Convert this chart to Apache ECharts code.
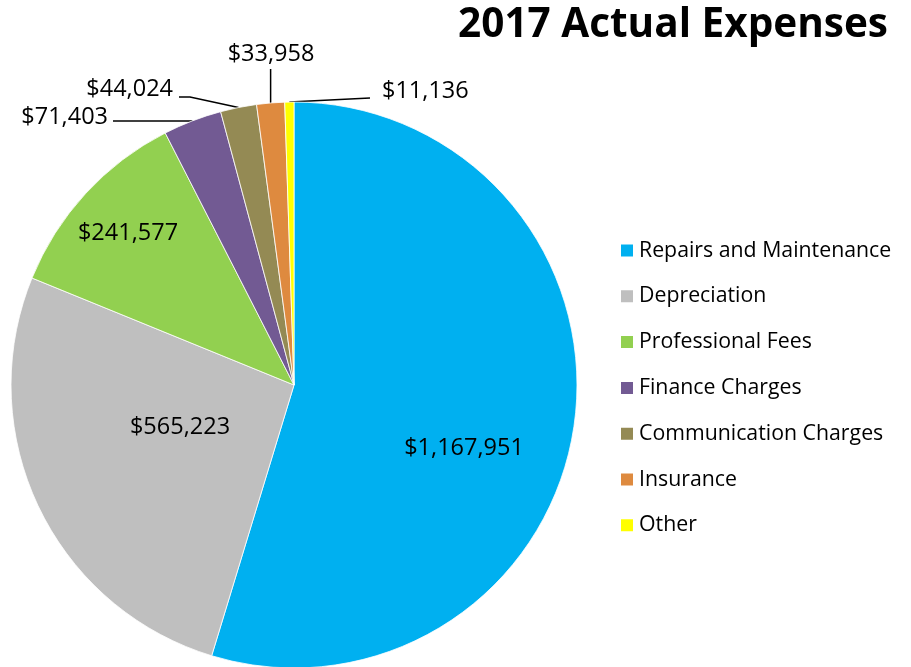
<!DOCTYPE html>
<html><head><meta charset="utf-8">
<script src="https://cdn.jsdelivr.net/npm/echarts@6/dist/echarts.min.js"></script>
<style>html,body{margin:0;padding:0;background:#fff}#c{width:911px;height:667px}</style>
</head><body><div id="c"></div>
<script>
const categories = ['Repairs and Maintenance','Depreciation','Professional Fees','Finance Charges','Communication Charges','Insurance','Other'];
const values = [1167951, 565223, 241577, 71403, 44024, 33958, 11136];
const colors = ['#00B0F0','#BFBFBF','#92D050','#725A93','#948A54','#DE8A3F','#FFFF00'];
const titleText = '2017 Actual Expenses';

const FONT = '"Open Sans", "Noto Sans", sans-serif';
// label placement (styling only)
const labelPlacement = [
  {x: 464, y: 448, align: 'center'},
  {x: 180, y: 427, align: 'center'},
  {x: 128, y: 233, align: 'center'},
  {x: 108, y: 117, align: 'right', line: p => [p, [113, p[1]], [113, p[1]]]},
  {x: 173, y: 89, align: 'right', line: p => [p, [190, 97], [179, 97]]},
  {x: 271, y: 54, align: 'center', line: p => [p, [p[0], 69], [p[0], 69]]},
  {x: 382, y: 91, align: 'left', line: p => [p, [370, 98], [370, 98]]}
];

const fmt = v => '$' + v.toLocaleString('en-US');
const data = categories.map((name, i) => ({
  name, value: values[i],
  itemStyle: {color: colors[i]},
  label: {position: i < 3 ? 'inside' : 'outside'},
  labelLine: {show: i >= 3}
}));

const chart = echarts.init(document.getElementById('c'), null, {renderer: 'canvas'});
chart.setOption({
  animation: false,
  backgroundColor: '#fff',
  title: {
    text: titleText, right: 18, top: 0,
    textStyle: {fontFamily: FONT, fontWeight: 'bold', fontSize: 40.5, color: '#000'}
  },
  legend: {
    orient: 'vertical', left: 614, top: 235,
    itemWidth: 14, itemHeight: 14, itemGap: 24.8, icon: 'rect',
    textStyle: {fontFamily: FONT, fontSize: 21.3, color: '#000', lineHeight: 20},
    data: categories
  },
  series: [{
    type: 'pie',
    center: [294, 385], radius: 283,
    startAngle: 90, clockwise: true,
    avoidLabelOverlap: false,
    itemStyle: {borderColor: '#fff', borderWidth: 0.8},
    label: {
      formatter: p => fmt(p.value),
      fontFamily: FONT, fontSize: 23.5, color: '#000'
    },
    labelLine: {lineStyle: {color: '#000', width: 1.5}},
    labelLayout: function (params) {
      const lp = labelPlacement[params.dataIndex];
      const res = {x: lp.x, y: lp.y, align: lp.align, verticalAlign: 'middle'};
      if (lp.line && params.labelLinePoints) {
        res.labelLinePoints = lp.line(params.labelLinePoints[0]);
      }
      return res;
    },
    emphasis: {disabled: true},
    data
  }]
});
</script></body></html>
